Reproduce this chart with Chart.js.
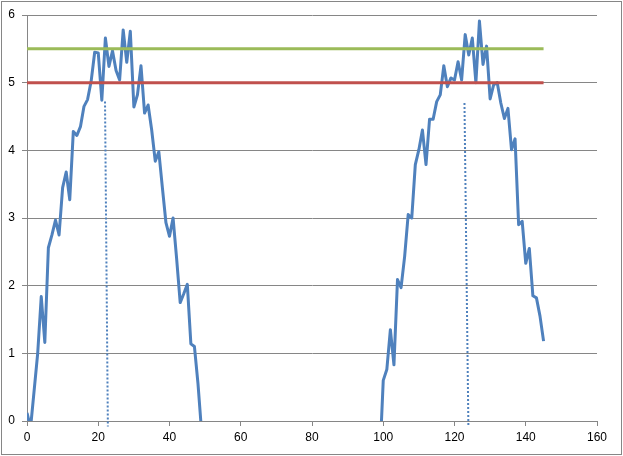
<!DOCTYPE html>
<html>

<head>
    <meta charset="utf-8">
    <title>Signal</title>
    <style>
        body { margin: 0; background: #fff; }
        #wrap { width: 623px; height: 456px; }
    </style>
</head>

<body>
    <div id="wrap"><canvas id="myChart" width="623" height="456"></canvas></div>

    <script src="https://cdn.jsdelivr.net/npm/chart.js@4/dist/chart.umd.min.js"></script>
    <script type="text/javascript">
        // first hump, x = 0..49
        const leftStart = 0;
        const leftValues = [0.12, -0.1, 0.45, 1.0, 1.84, 1.16, 2.56, 2.75, 2.97, 2.75,
            3.45, 3.68, 3.27, 4.28, 4.22, 4.35, 4.65, 4.75, 5.02, 5.45,
            5.44, 4.74, 5.66, 5.24, 5.47, 5.18, 5.04, 5.78, 5.3, 5.76,
            4.64, 4.82, 5.25, 4.55, 4.67, 4.3, 3.84, 3.98, 3.45, 2.93,
            2.73, 3.0, 2.4, 1.75, 1.88, 2.02, 1.14, 1.1, 0.55, -0.15];

        // second hump, x = 99..145
        const rightStart = 99;
        const rightValues = [-0.6, 0.6, 0.76, 1.35, 0.83, 2.09, 1.97, 2.43, 3.05, 3.0,
            3.79, 4.01, 4.3, 3.79, 4.46, 4.46, 4.72, 4.82, 5.25, 4.94,
            5.07, 5.04, 5.31, 5.04, 5.71, 5.41, 5.66, 5.0, 5.91, 5.27,
            5.54, 4.76, 4.97, 5.0, 4.7, 4.47, 4.62, 4.01, 4.17, 2.9,
            2.95, 2.33, 2.55, 1.85, 1.82, 1.55, 1.18];

        // threshold lines
        const levelX = [0, 145];
        const upperLevel = 5.5;
        const lowerLevel = 5.0;

        // dotted markers
        const marker1X = [21.9, 22.7];
        const marker1Y = [4.72, -0.08];
        const marker2X = [122.8, 123.9];
        const marker2Y = [4.7, -0.08];

        const xTicks = { min: 0, max: 160, step: 20 };
        const yTicks = { min: 0, max: 6, step: 1 };

        const blue = '#4F81BD';
        const gridCol = '#868686';

        function pts(start, vals) {
            return vals.map((v, i) => ({ x: start + i, y: v }));
        }
        function pairs(xs, ys) {
            return xs.map((x, i) => ({ x: x, y: ys[i] }));
        }

        const frame = {
            id: 'frame',
            afterDraw(c) {
                const g = c.ctx;
                g.save();
                g.strokeStyle = gridCol;
                g.lineWidth = 1;
                g.strokeRect(1.5, 1.5, 620, 453);
                g.restore();
            }
        };

        var ctx = document.getElementById('myChart').getContext('2d');
        var chart = new Chart(ctx, {
            type: 'line',
            data: {
                datasets: [{
                    data: pairs(levelX, [upperLevel, upperLevel]),
                    borderColor: '#9BBB59',
                    borderWidth: 3,
                    order: 0
                }, {
                    data: pairs(levelX, [lowerLevel, lowerLevel]),
                    borderColor: '#C0504D',
                    borderWidth: 3,
                    order: 1
                }, {
                    data: pts(leftStart, leftValues),
                    borderColor: blue,
                    borderWidth: 3,
                    borderJoinStyle: 'round',
                    clip: 0,
                    order: 2
                }, {
                    data: pts(rightStart, rightValues),
                    borderColor: blue,
                    borderWidth: 3,
                    borderJoinStyle: 'round',
                    clip: 0,
                    order: 3
                }, {
                    data: pairs(marker1X, marker1Y),
                    borderColor: blue,
                    borderWidth: 2,
                    borderDash: [2, 2],
                    clip: 8,
                    order: 4
                }, {
                    data: pairs(marker2X, marker2Y),
                    borderColor: blue,
                    borderWidth: 2,
                    borderDash: [2, 2],
                    clip: 8,
                    order: 5
                }]
            },
            options: {
                responsive: false,
                animation: false,
                parsing: false,
                elements: { point: { radius: 0 }, line: { tension: 0, fill: false } },
                layout: { padding: { top: 15, right: 26, left: 0, bottom: 0 } },
                plugins: { legend: { display: false }, tooltip: { enabled: false } },
                scales: {
                    x: {
                        type: 'linear',
                        min: xTicks.min,
                        max: xTicks.max,
                        afterFit: s => { s.height = 35; },
                        ticks: { stepSize: xTicks.step, color: '#000', padding: 4,
                            font: { family: 'Liberation Sans, Arial', size: 12 } },
                        grid: { drawOnChartArea: false, drawTicks: true, tickLength: 5, color: gridCol },
                        border: { color: gridCol }
                    },
                    y: {
                        min: yTicks.min,
                        max: yTicks.max,
                        afterFit: s => { s.width = 27; },
                        ticks: { stepSize: yTicks.step, color: '#000', padding: 7,
                            font: { family: 'Liberation Sans, Arial', size: 12 } },
                        grid: { color: gridCol, tickLength: 5 },
                        border: { color: gridCol }
                    }
                }
            },
            plugins: [frame]
        });
    </script>
</body>

</html>
